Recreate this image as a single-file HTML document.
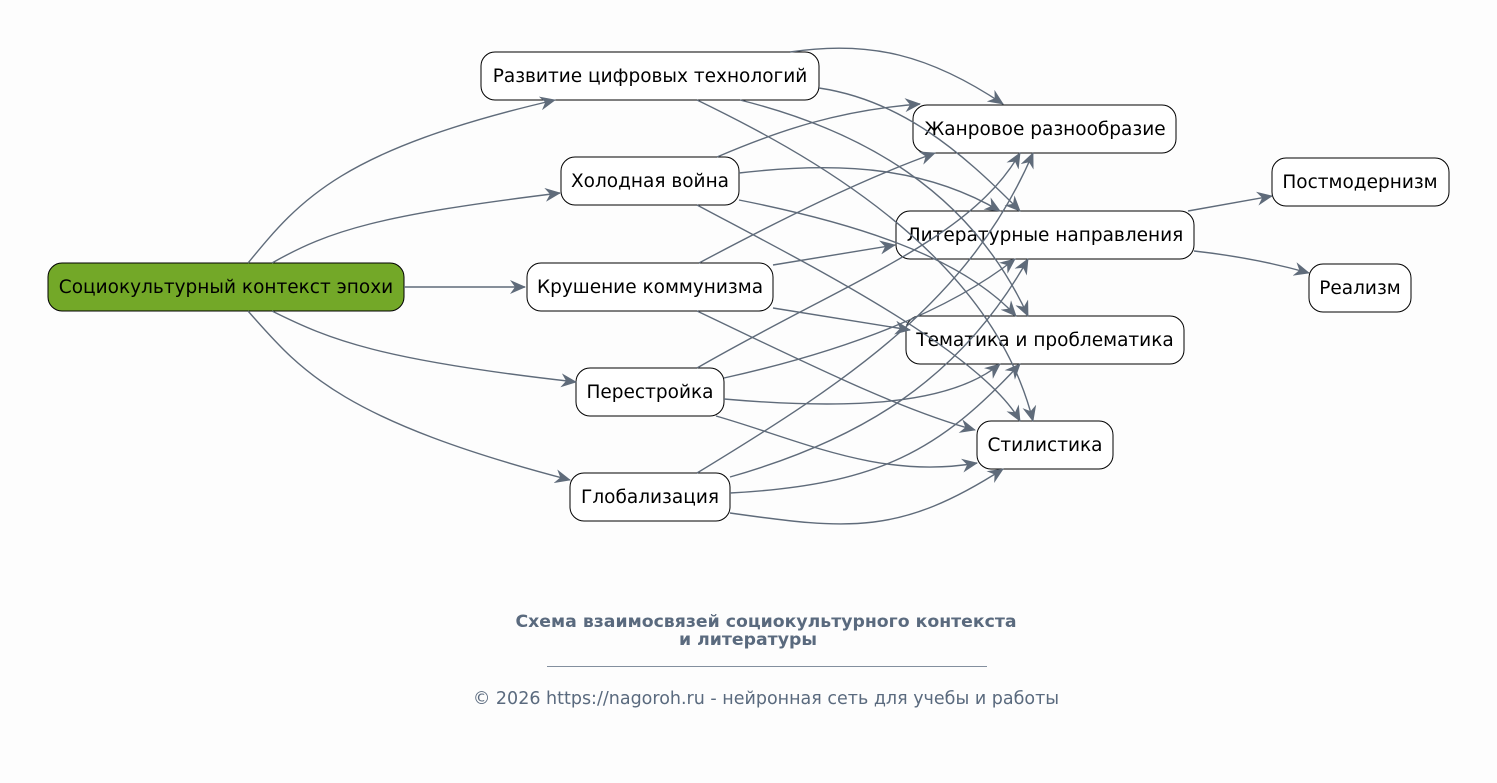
<!DOCTYPE html>
<html><head><meta charset="utf-8"><style>
html,body{margin:0;padding:0;background:#fdfdfd;overflow:hidden;}
svg{display:block;}
svg text{font-family:"DejaVu Sans","Liberation Sans",sans-serif;}
</style></head><body>
<svg width="1497" height="783" viewBox="0 0 1497 783" xmlns="http://www.w3.org/2000/svg">
<defs>
<marker id="a" viewBox="0 0 16 14" refX="15" refY="7" markerWidth="16" markerHeight="14" markerUnits="userSpaceOnUse" orient="auto">
<path d="M0,0 L16,7 L0,14 L5,7 z" fill="#5f6b7a"/>
</marker>
</defs>
<rect width="1497" height="783" fill="#fdfdfd"/>
<g fill="#fff" stroke="#000" stroke-width="1">
<rect x="48" y="263" width="356" height="48" rx="14" fill="#73a828"/>
<rect x="481" y="52" width="338" height="48" rx="14"/>
<rect x="561" y="157" width="178" height="48" rx="14"/>
<rect x="527" y="263" width="246" height="48" rx="14"/>
<rect x="576" y="368" width="148" height="48" rx="14"/>
<rect x="570" y="473" width="160" height="48" rx="14"/>
<rect x="913" y="105" width="263" height="48" rx="14"/>
<rect x="896" y="211" width="298" height="48" rx="14"/>
<rect x="906" y="316" width="278" height="48" rx="14"/>
<rect x="977" y="421" width="136" height="48" rx="14"/>
<rect x="1272" y="158" width="177" height="48" rx="14"/>
<rect x="1309" y="264" width="102" height="48" rx="14"/>
</g>
<g font-size="18.5" text-anchor="middle" fill="#000">
<text x="226" y="293">Социокультурный контекст эпохи</text>
<text x="650" y="82">Развитие цифровых технологий</text>
<text x="650" y="187">Холодная война</text>
<text x="650" y="293">Крушение коммунизма</text>
<text x="650" y="398">Перестройка</text>
<text x="650" y="503">Глобализация</text>
<text x="1045" y="135">Жанровое разнообразие</text>
<text x="1045" y="241">Литературные направления</text>
<text x="1045" y="346">Тематика и проблематика</text>
<text x="1045" y="451">Стилистика</text>
<text x="1360" y="188">Постмодернизм</text>
<text x="1360" y="294">Реализм</text>
</g>
<g fill="none" stroke="#5f6b7a" stroke-width="1.4" marker-end="url(#a)">
<path d="M248,263 C300,200 340,150 555,100"/>
<path d="M272,263 C330,230 380,215 560,193"/>
<path d="M404,287 L525,287"/>
<path d="M272,311 C330,340 380,360 576,382"/>
<path d="M248,311 C300,370 340,420 570,480"/>
<path d="M790,52 C870,40 930,55 1003,104"/>
<path d="M819,88 C900,100 960,150 1020,211"/>
<path d="M740,100 C860,130 970,190 1028,316"/>
<path d="M697,100 C800,150 990,250 1033,421"/>
<path d="M717,157 C780,130 840,110 920,104"/>
<path d="M739,173 C850,160 930,170 1000,211"/>
<path d="M739,200 C850,222 960,255 1016,316"/>
<path d="M697,205 C800,260 980,350 1020,421"/>
<path d="M699,263 C780,220 860,180 935,153"/>
<path d="M773,265 L895,245"/>
<path d="M773,308 L910,330"/>
<path d="M697,311 C800,360 900,410 975,430"/>
<path d="M697,368 C850,280 970,240 1020,153"/>
<path d="M724,378 C850,350 950,310 1015,259"/>
<path d="M724,399 C850,410 950,405 1000,364"/>
<path d="M716,416 C800,440 880,480 977,463"/>
<path d="M697,473 C850,380 970,300 1033,153"/>
<path d="M730,477 C860,440 960,380 1028,259"/>
<path d="M730,493 C880,485 940,450 1020,364"/>
<path d="M730,513 C850,530 900,535 1003,469"/>
<path d="M1188,211 L1272,196"/>
<path d="M1194,251 C1230,255 1270,262 1309,273"/>
</g>
<g text-anchor="middle" fill="#5a6a7e">
<text x="766" y="627" font-size="17.3" font-weight="bold">Схема взаимосвязей социокультурного контекста</text>
<text x="748" y="645" font-size="17.3" font-weight="bold">и литературы</text>
<line x1="547" y1="666.5" x2="987" y2="666.5" stroke="#5a6a7e" stroke-width="0.7"/>
<text x="766" y="704" font-size="17.5">© 2026 https://nagoroh.ru - нейронная сеть для учебы и работы</text>
</g>
</svg>
</body></html>
